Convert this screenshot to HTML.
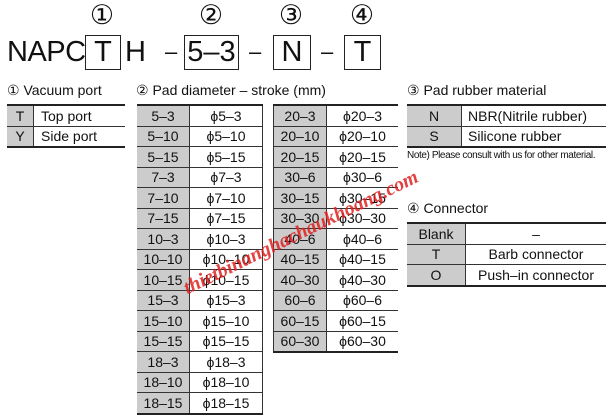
<!DOCTYPE html><html><head><meta charset="utf-8"><style>
body{margin:0;width:611px;height:417px;background:#fff;position:relative;overflow:hidden;font-family:"Liberation Sans",Arial,sans-serif;color:#111}
.a{position:absolute}
table{position:absolute;border-collapse:collapse;font-size:14px;border-top:2px solid #222;border-bottom:2px solid #222}
td{height:19.5px;padding:0;border-bottom:1px solid #333;text-align:center;line-height:18px;white-space:nowrap}
td.k{background:#ccc;border-right:1px solid #333}
.box{position:absolute;border:1px solid #222;font-size:29px;text-align:center;line-height:33px;height:33px;top:35px}
.c{position:absolute;font-size:27px;top:0px;width:30px;text-align:center}
.t{position:absolute;top:34px;font-size:29px;line-height:36px}
.h{position:absolute;font-size:14px;top:82px}
</style></head><body>
<div class="c" style="left:87px">①</div>
<div class="c" style="left:196px">②</div>
<div class="c" style="left:276px">③</div>
<div class="c" style="left:347px">④</div>
<div class="t" style="left:7px;letter-spacing:-0.5px">NAPC</div>
<div class="box" style="left:85px;width:34px">T</div>
<div class="t" style="left:125px">H</div>
<div class="t" style="left:165px;font-size:22px">–</div>
<div class="box" style="left:184px;width:53px">5–3</div>
<div class="t" style="left:249px;font-size:22px">–</div>
<div class="box" style="left:273px;width:36px">N</div>
<div class="t" style="left:321px;font-size:22px">–</div>
<div class="box" style="left:344px;width:35px">T</div>
<div class="h" style="left:7px">① Vacuum port</div>
<div class="h" style="left:136px">② Pad diameter – stroke (mm)</div>
<div class="h" style="left:407px">③ Pad rubber material</div>
<div class="h" style="left:407px;top:200px">④ Connector</div>
<div class="a" style="left:407px;top:150px;font-size:10px;letter-spacing:-0.4px">Note) Please consult with us for other material.</div>
<table style="left:7px;top:104px;width:118px"><tr><td class="k" style="width:26px">T</td><td style="text-align:left;padding-left:7px">Top port</td></tr><tr><td class="k">Y</td><td style="text-align:left;padding-left:7px">Side port</td></tr></table>
<table style="left:137px;top:104px;width:126px;border-right:1px solid #333"><tr><td class="k" style="width:52px">5–3</td><td>ϕ5–3</td></tr><tr><td class="k">5–10</td><td>ϕ5–10</td></tr><tr><td class="k">5–15</td><td>ϕ5–15</td></tr><tr><td class="k">7–3</td><td>ϕ7–3</td></tr><tr><td class="k">7–10</td><td>ϕ7–10</td></tr><tr><td class="k">7–15</td><td>ϕ7–15</td></tr><tr><td class="k">10–3</td><td>ϕ10–3</td></tr><tr><td class="k">10–10</td><td>ϕ10–10</td></tr><tr><td class="k">10–15</td><td>ϕ10–15</td></tr><tr><td class="k">15–3</td><td>ϕ15–3</td></tr><tr><td class="k">15–10</td><td>ϕ15–10</td></tr><tr><td class="k">15–15</td><td>ϕ15–15</td></tr><tr><td class="k">18–3</td><td>ϕ18–3</td></tr><tr><td class="k">18–10</td><td>ϕ18–10</td></tr><tr><td class="k">18–15</td><td>ϕ18–15</td></tr></table>
<table style="left:273px;top:104px;width:125px;border-left:1px solid #333"><tr><td class="k" style="width:52px">20–3</td><td>ϕ20–3</td></tr><tr><td class="k">20–10</td><td>ϕ20–10</td></tr><tr><td class="k">20–15</td><td>ϕ20–15</td></tr><tr><td class="k">30–6</td><td>ϕ30–6</td></tr><tr><td class="k">30–15</td><td>ϕ30–15</td></tr><tr><td class="k">30–30</td><td>ϕ30–30</td></tr><tr><td class="k">40–6</td><td>ϕ40–6</td></tr><tr><td class="k">40–15</td><td>ϕ40–15</td></tr><tr><td class="k">40–30</td><td>ϕ40–30</td></tr><tr><td class="k">60–6</td><td>ϕ60–6</td></tr><tr><td class="k">60–15</td><td>ϕ60–15</td></tr><tr><td class="k">60–30</td><td>ϕ60–30</td></tr></table>
<table style="left:407px;top:104px;width:199px"><tr><td class="k" style="width:54px">N</td><td style="text-align:left;padding-left:6px">NBR(Nitrile rubber)</td></tr><tr><td class="k">S</td><td style="text-align:left;padding-left:6px">Silicone rubber</td></tr></table>
<table style="left:407px;top:222px;width:199px"><tr><td class="k" style="width:58px">Blank</td><td>–</td></tr><tr><td class="k">T</td><td>Barb connector</td></tr><tr><td class="k">O</td><td>Push–in connector</td></tr></table>
<div class="a" style="left:185px;top:278px;width:320px;transform:rotate(-26deg);transform-origin:left center;color:#e02020;font-family:'Liberation Serif',serif;font-weight:bold;font-style:italic;font-size:20px;opacity:.85">thietbinanghachaukhoang.com</div>
</body></html>
